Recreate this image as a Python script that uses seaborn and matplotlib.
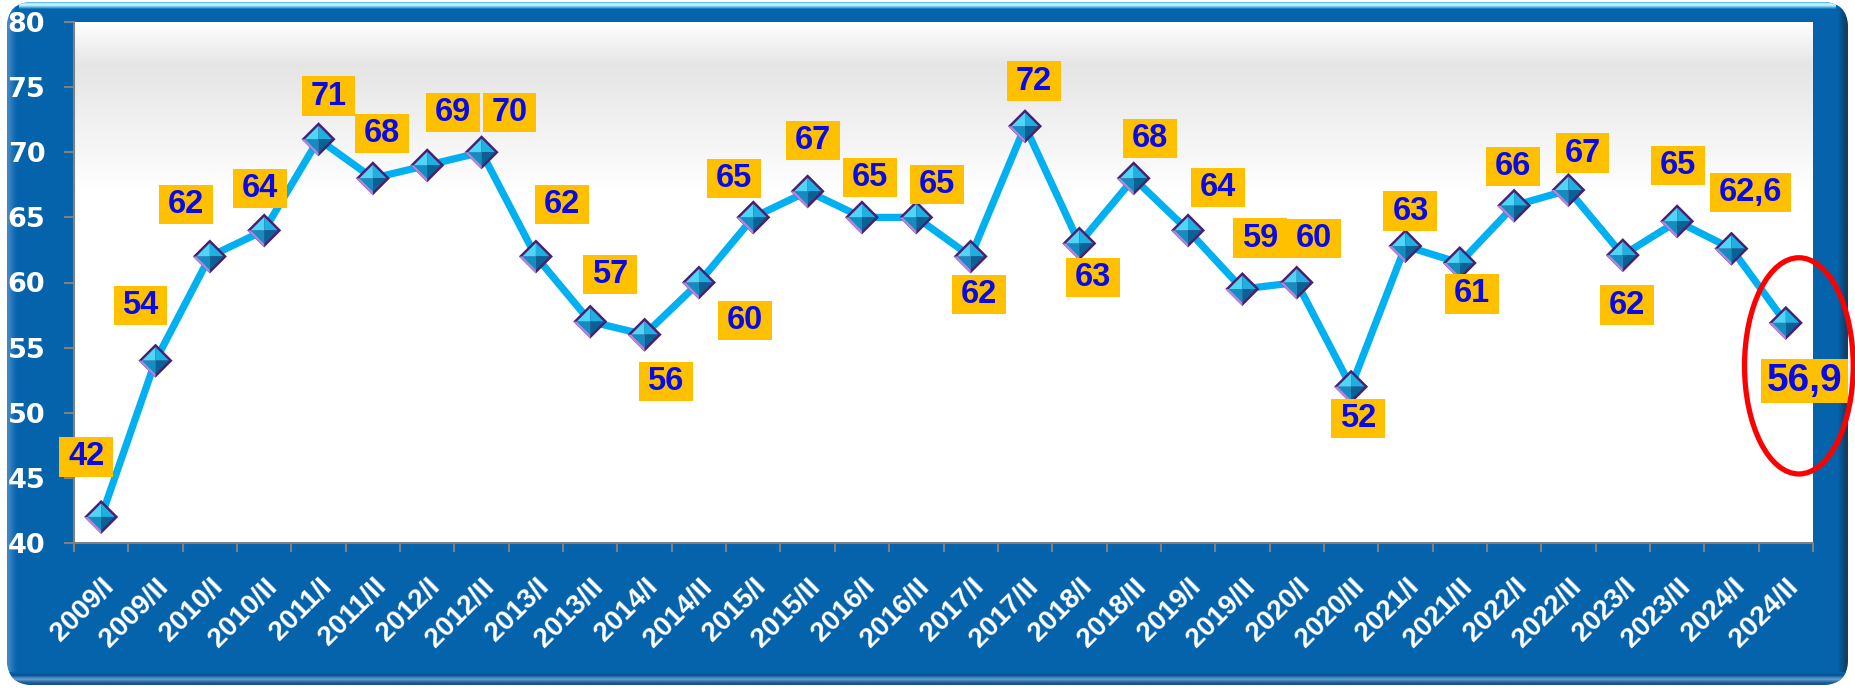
import numpy as np
import pandas as pd
import matplotlib
matplotlib.use("Agg")
import matplotlib.pyplot as plt
import seaborn as sns
from matplotlib.patches import FancyBboxPatch, Ellipse
from matplotlib.path import Path
from matplotlib.colors import to_rgb

# ---------------- data ----------------
categories = ["2009/I", "2009/II", "2010/I", "2010/II", "2011/I", "2011/II",
              "2012/I", "2012/II", "2013/I", "2013/II", "2014/I", "2014/II",
              "2015/I", "2015/II", "2016/I", "2016/II", "2017/I", "2017/II",
              "2018/I", "2018/II", "2019/I", "2019/II", "2020/I", "2020/II",
              "2021/I", "2021/II", "2022/I", "2022/II", "2023/I", "2023/II",
              "2024/I", "2024/II"]
values = [42, 54, 62, 64, 71, 68, 69, 70, 62, 57, 56, 60, 65, 67, 65, 65,
          62, 72, 63, 68, 64, 59.5, 60, 52, 62.8, 61.5, 65.9, 67.1, 62.1,
          64.7, 62.6, 56.9]
value_labels = ["42", "54", "62", "64", "71", "68", "69", "70", "62", "57",
                "56", "60", "65", "67", "65", "65", "62", "72", "63", "68",
                "64", "59", "60", "52", "63", "61", "66", "67", "62", "65",
                "62,6", "56,9"]
y_ticks = [40, 45, 50, 55, 60, 65, 70, 75, 80]

# label offsets from their point (pixels, +x right, +y down)
label_dx = [-15, -15, -24, -4, 10, 9, 26, 28, 26, 20, 21, 46, -19, 5, 8, 21,
            8, 9, 14, 16, 30, 18, 17, 7, 5, 12, -1, 14, 4, 1, 19, 19]
label_dy = [-60, -55, -52, -42, -43, -45, -53, -40, -52, -47, 47, 38, -39,
            -51, -40, -33, 38, -45, 34, -40, -43, -51, -44, 32, -35, 31, -39,
            -37, 50, -56, -56, 58]

# ---------------- style ----------------
FRAME_BLUE = "#0563AC"
LINE_BLUE = "#00B0F0"
BOX_YELLOW = "#FFC000"
TEXT_BLUE = "#0A0AE6"
TICK_GRAY = "#808080"

sns.set_theme(style="white")
plt.rcParams["font.family"] = ["Liberation Sans", "DejaVu Sans"]

W, H = 1855, 688
fig = plt.figure(figsize=(W / 100, H / 100), dpi=100, facecolor="white")

# ---------- outer frame (background axes in pixel units) ----------
bg = fig.add_axes([0, 0, 1, 1], zorder=-10)
bg.set_xlim(0, W)
bg.set_ylim(H, 0)
bg.axis("off")
r = 26
x0, x1, y0, y1 = 7, 1848, 2, 685
frame = FancyBboxPatch((x0 + r, y0 + r), (x1 - x0) - 2 * r, (y1 - y0) - 2 * r,
                       boxstyle=f"round,pad={r}", fc=FRAME_BLUE, ec="none")
bg.add_patch(frame)


def strip(colors, extent, vertical=True):
    arr = np.array([to_rgb(c) for c in colors])
    img = arr[:, None, :] if vertical else arr[None, :, :]
    im = bg.imshow(img, extent=extent, aspect="auto", interpolation="bilinear",
                   zorder=1)
    im.set_clip_path(frame)
    return im


# top highlight
strip(["#6CC2EE", "#D8F8FF", "#B4EEFC", "#72CDF0", "#2F8FD0", FRAME_BLUE],
      [x0, x1, 10, y0])
# left light edge
strip(["#3F86C2", "#1C72B8", FRAME_BLUE], [x0, x0 + 12, y1, y0], vertical=False)
# right dark edge
strip([FRAME_BLUE, "#0A4F8A", "#123E63"], [x1 - 12, x1, y1, y0], vertical=False)
# bottom edge
strip([FRAME_BLUE, "#0A4D88", "#3C82BE", "#5C9BD0", "#2A6AA2", "#1A4F80"],
      [x0, x1, y1, y1 - 13])
bg.set_xlim(0, W)
bg.set_ylim(H, 0)


def make_box(padx, pady):
    def box(x0, y0, width, height, mutation_size):
        px, py = padx * mutation_size, pady * mutation_size
        xa, xb = x0 - px, x0 + width + px
        ya, yb = y0 - py, y0 + height + py
        return Path([(xa, ya), (xb, ya), (xb, yb), (xa, yb), (xa, ya)],
                    closed=True)
    return box


# ---------------- main axes ----------------
left, right, top, bottom = 74, 1813, 22, 543
ax = fig.add_axes([left / W, 1 - bottom / H, (right - left) / W, (bottom - top) / H])
ax.set_facecolor("white")

df = pd.DataFrame({"period": categories, "value": values})
n = len(categories)

# gradient in plot area
gy = np.linspace(80, 40, 400)
lvl = np.interp(gy, [40, 67, 76.7, 80], [1.0, 1.0, 0.898, 1.0])
grad = np.stack([lvl, lvl, lvl], axis=-1)[:, None, :]
ax.imshow(grad, extent=[-0.5, n - 0.5, 40, 80], aspect="auto", zorder=0,
          interpolation="bilinear")

sns.lineplot(data=df, x="period", y="value", sort=False, color=LINE_BLUE,
             linewidth=5.2, ax=ax, zorder=2)

# pyramid diamond markers
outer = [(-1, 0), (0, 1), (1, 0), (0, -1)]
sns.scatterplot(data=df, x="period", y="value", marker=outer, s=24.5 ** 2,
                color="#4A1F70", linewidth=0, edgecolor="none", ax=ax, zorder=3)
sns.scatterplot(data=df, x="period", y="value", marker=[(0, 0), (-1, 0), (0, -1)],
                s=24.5 ** 2, color="#B583E0", linewidth=0, edgecolor="none",
                ax=ax, zorder=3.1)
faces = [([(0, 0), (-1, 0), (0, 1)], "#4FD6F6"),
         ([(0, 0), (0, 1), (1, 0)], "#1FB0E2"),
         ([(0, 0), (1, 0), (0, -1)], "#0A6294"),
         ([(0, 0), (0, -1), (-1, 0)], "#138DBE")]
for k, (verts, col) in enumerate(faces):
    sns.scatterplot(data=df, x="period", y="value", marker=verts, s=19.5 ** 2,
                    color=col, linewidth=0, edgecolor="none", ax=ax,
                    zorder=3.2 + 0.01 * k)

# value labels
small_box = make_box(0.27, 0.13)
big_box = make_box(0.15, 0.10)
for i, (v, lab) in enumerate(zip(values, value_labels)):
    big = i == n - 1
    ax.annotate(lab, xy=(i, v),
                xytext=(label_dx[i] * 0.72, -label_dy[i] * 0.72),
                textcoords="offset points", ha="center", va="center",
                fontsize=28 if big else 23.5, fontweight="bold", color=TEXT_BLUE,
                bbox=dict(boxstyle=big_box if big else small_box,
                          fc=BOX_YELLOW, ec="none"),
                zorder=6, annotation_clip=False)

# red ellipse highlighting the last value
ax.add_patch(Ellipse((n - 1 + 0.24, 53.6), width=2.0, height=16.6, fill=False,
                     ec="#FF0000", lw=3.8, clip_on=False, zorder=7))

# axes styling
ax.set_xlim(-0.5, n - 0.5)
ax.set_ylim(40, 80)
ax.set_xlabel("")
ax.set_ylabel("")
ax.set_yticks(y_ticks)
ax.set_yticklabels([str(t) for t in y_ticks])
ax.set_xticks(range(n))
ax.set_xticklabels(categories)
ax.set_xticks(np.arange(-0.5, n, 1.0), minor=True)

ax.tick_params(axis="y", which="major", length=7.2, width=1.5, color=TICK_GRAY,
               pad=13.5, labelsize=19.5, labelcolor="white", left=True,
               direction="out")
ax.tick_params(axis="x", which="major", length=0, pad=22, labelsize=20,
               labelcolor="white")
ax.tick_params(axis="x", which="minor", length=6.5, width=1.5, color=TICK_GRAY,
               bottom=True, direction="out")
for t in ax.get_yticklabels():
    t.set_fontweight("bold")
    t.set_family(["DejaVu Sans"])
for t in ax.get_xticklabels():
    t.set_fontweight("bold")
    t.set_rotation(45)
    t.set_ha("right")
    t.set_va("top")
    t.set_rotation_mode("anchor")

for s in ["top", "right"]:
    ax.spines[s].set_visible(False)
for s in ["left", "bottom"]:
    ax.spines[s].set_color(TICK_GRAY)
    ax.spines[s].set_linewidth(1.5)
    ax.spines[s].set_zorder(1.5)

leg = ax.get_legend()
if leg is not None:
    leg.remove()

fig.savefig("out.png", dpi=100, facecolor="white")
